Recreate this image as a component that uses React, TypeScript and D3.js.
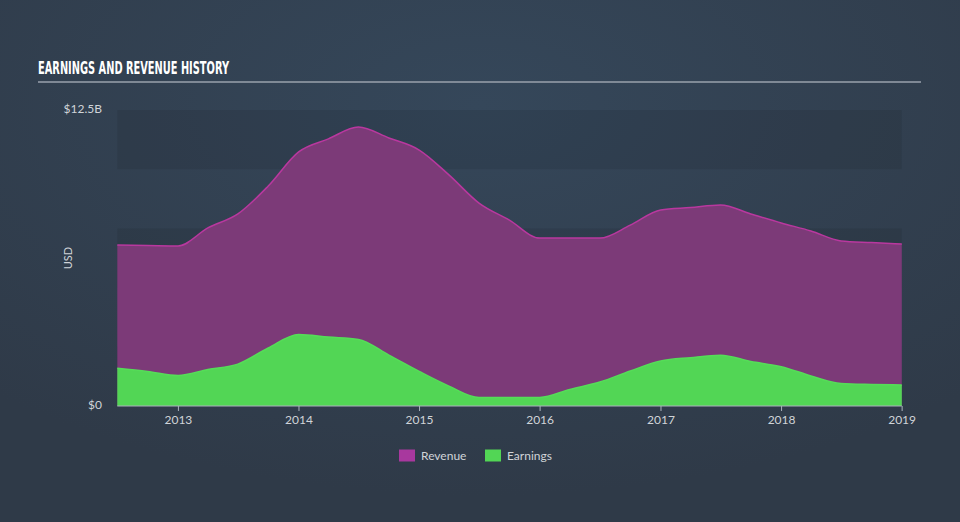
import React from "react";
import * as d3 from "d3";

const dates = [
  "2012-06-30","2012-09-30","2012-12-31","2013-03-31","2013-06-30","2013-09-30","2013-12-31",
  "2014-03-31","2014-06-30","2014-09-30","2014-12-31","2015-03-31","2015-06-30","2015-09-30",
  "2015-12-31","2016-03-31","2016-06-30","2016-09-30","2016-12-31","2017-03-31","2017-06-30",
  "2017-09-30","2017-12-31","2018-03-31","2018-06-30","2018-09-30","2018-12-31",
];
const revenue = [
  6.8, 6.78, 6.76, 7.52, 8.11, 9.29, 10.73, 11.28, 11.78, 11.32, 10.81, 9.76, 8.57, 7.85,
  7.09, 7.09, 7.09, 7.64, 8.28, 8.38, 8.49, 8.11, 7.73, 7.39, 6.97, 6.9, 6.84,
];
const earnings = [
  1.59, 1.46, 1.29, 1.54, 1.77, 2.45, 3.02, 2.91, 2.81, 2.15, 1.46, 0.84, 0.36, 0.36,
  0.36, 0.7, 1.01, 1.48, 1.9, 2.04, 2.14, 1.88, 1.66, 1.27, 0.95, 0.91, 0.89,
];
const yearTicks = ["2013", "2014", "2015", "2016", "2017", "2018", "2019"];
const yLabels = ["$0", "$12.5B"];
const legendItems = ["Revenue", "Earnings"];

const W = 960;
const H = 522;
const left = 117.3;
const right = 901.8;
const top = 110;
const bottom = 406;

export default function App() {
  const parse = d3.timeParse("%Y-%m-%d");
  const ds = dates.map((d) => parse(d) as Date);
  const x = d3.scaleTime().domain([ds[0], ds[ds.length - 1]]).range([left, right]);
  const y = d3.scaleLinear().domain([0, 12.5]).range([bottom, top]);

  const areaGen = (vals: number[]) =>
    d3
      .area<number>()
      .x((_, i) => x(ds[i]))
      .y0(y(0))
      .y1((v) => y(v))
      .curve(d3.curveMonotoneX)(vals) as string;
  const lineGen = (vals: number[]) =>
    d3
      .line<number>()
      .x((_, i) => x(ds[i]))
      .y((v) => y(v))
      .curve(d3.curveMonotoneX)(vals) as string;

  const bands = [0, 2.5, 5, 7.5, 10];
  const colors = ["#7c3a78", "#52d655"];
  const strokes = ["#b9389f", "#55dd58"];
  const font = "Lato, 'Open Sans', sans-serif";

  return (
    <svg
      width={W}
      height={H}
      style={{ position: "absolute", left: 0, top: 0, display: "block" }}
    >
      <defs>
        <radialGradient id="bg" cx="50%" cy="20%" r="75%">
          <stop offset="0%" stopColor="#35475a" />
          <stop offset="100%" stopColor="#2f3a48" />
        </radialGradient>
      </defs>
      <rect x={0} y={0} width={W} height={H} fill="url(#bg)" />
      {bands.map((b, i) => (
        <rect
          key={b}
          x={left}
          y={y(b + 2.5)}
          width={right - left}
          height={y(b) - y(b + 2.5)}
          fill={i % 2 === 0 ? "rgba(0,0,0,0.08)" : "rgba(0,0,0,0)"}
        />
      ))}
      <text
        x={38}
        y={74}
        fill="#ffffff"
        fontFamily="'DejaVu Sans Condensed', 'DejaVu Sans', sans-serif"
        fontWeight="bold"
        fontStretch="condensed"
        fontSize={17}
        textLength={191}
        lengthAdjust="spacingAndGlyphs"
      >
        EARNINGS AND REVENUE HISTORY
      </text>
      <line x1={38} x2={921} y1={82} y2={82} stroke="#9aa2ac" strokeWidth={1.5} />

      <path d={areaGen(revenue)} fill={colors[0]} />
      <path d={lineGen(revenue)} fill="none" stroke={strokes[0]} strokeWidth={1.5} />
      <path d={areaGen(earnings)} fill={colors[1]} />
      <path d={lineGen(earnings)} fill="none" stroke={strokes[1]} strokeWidth={1.5} />

      <line x1={left} x2={right} y1={bottom} y2={bottom} stroke="#aab2bc" strokeWidth={1} />
      {yearTicks.map((t) => {
        const xv = x(parse(`${t}-01-01`) as Date);
        return (
          <g key={t}>
            <line x1={xv} x2={xv} y1={bottom} y2={bottom + 5} stroke="#aab2bc" />
            <text
              x={xv}
              y={424}
              textAnchor="middle"
              fill="#d0d4d8"
              fontFamily={font}
              fontSize={12}
            >
              {t}
            </text>
          </g>
        );
      })}
      <text x={102} y={113} textAnchor="end" fill="#d0d4d8" fontFamily={font} fontSize={12}>
        {yLabels[1]}
      </text>
      <text x={102} y={409} textAnchor="end" fill="#d0d4d8" fontFamily={font} fontSize={12}>
        {yLabels[0]}
      </text>
      <text
        transform="translate(72,258) rotate(-90)"
        textAnchor="middle"
        fill="#d0d4d8"
        fontFamily={font}
        fontSize={11}
      >
        USD
      </text>

      {legendItems.map((name, i) => {
        const lx = i === 0 ? 399 : 485;
        return (
          <g key={name}>
            <rect x={lx} y={449.5} width={16} height={12} fill={i === 0 ? "#a8389e" : colors[1]} />
            <text x={lx + 22} y={460} fill="#d0d4d8" fontFamily={font} fontSize={12}>
              {name}
            </text>
          </g>
        );
      })}
    </svg>
  );
}
